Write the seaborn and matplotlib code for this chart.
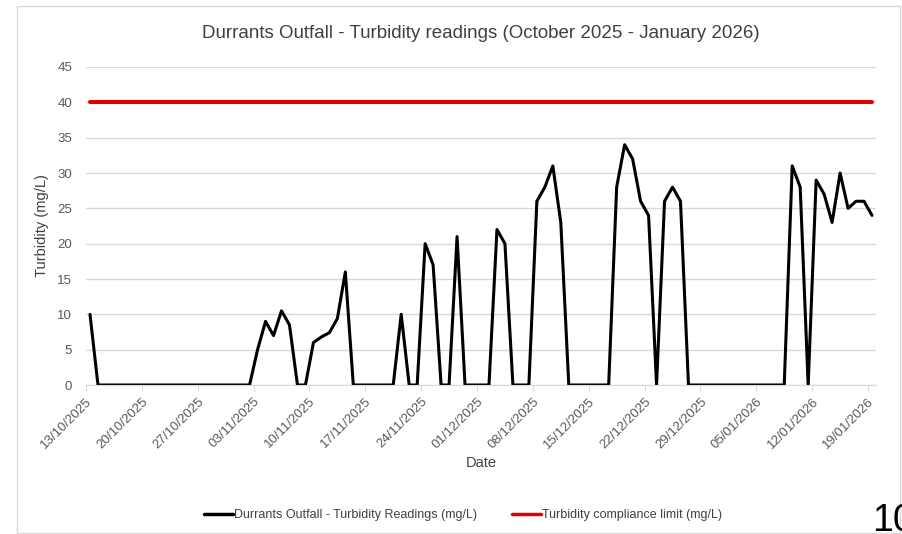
import pandas as pd
import matplotlib.pyplot as plt
import matplotlib.dates as mdates
from matplotlib.patches import Rectangle
import seaborn as sns

# daily readings from 13/10/2025, one row per week (Mon-Sun)
readings = [
    10, 0, 0, 0, 0, 0, 0,
    0, 0, 0, 0, 0, 0, 0,
    0, 0, 0, 0, 0, 0, 0,
    5, 9, 7, 10.5, 8.5, 0, 0,
    6, 6.8, 7.4, 9.4, 16, 0, 0,
    0, 0, 0, 0, 10, 0, 0,
    20, 17, 0, 0, 21, 0, 0,
    0, 0, 22, 20, 0, 0, 0,
    26, 28, 31, 23, 0, 0, 0,
    0, 0, 0, 28, 34, 32, 26,
    24, 0, 26, 28, 26, 0, 0,
    0, 0, 0, 0, 0, 0, 0,
    0, 0, 0, 0, 31, 28, 0,
    29, 27, 23, 30, 25, 26, 26,
    24,
]
start_date = '2025-10-13'
compliance_limit = 40
series_name = 'Durrants Outfall - Turbidity Readings (mg/L)'
limit_name = 'Turbidity compliance limit (mg/L)'

dates = pd.date_range(start_date, periods=len(readings), freq='D')
df = pd.DataFrame({
    'Date': dates + pd.Timedelta(hours=12),
    series_name: readings,
    limit_name: [compliance_limit] * len(readings),
})
long = df.melt(id_vars='Date', var_name='Series', value_name='Turbidity')

sns.set_style('white')
plt.rcParams['font.family'] = ['Liberation Sans', 'DejaVu Sans']

fig = plt.figure(figsize=(9.03, 5.34), dpi=100)
ax = fig.add_axes([86 / 903, 1 - 385 / 534, 790 / 903, 318 / 534])

sns.lineplot(data=long, x='Date', y='Turbidity', hue='Series',
             palette={series_name: 'black', limit_name: '#e00000'},
             ax=ax, legend=False)
ax.lines[0].set_linewidth(2.2)
ax.lines[1].set_linewidth(2.9)

ax.set_xlim(dates[0], dates[-1] + pd.Timedelta(days=1))
ax.set_ylim(0, 45)
ax.set_yticks(range(0, 46, 5))
ax.set_xticks(pd.date_range(start_date, dates[-1], freq='7D'))
ax.xaxis.set_major_formatter(mdates.DateFormatter('%d/%m/%Y'))
plt.setp(ax.get_xticklabels(), rotation=45, ha='right', rotation_mode='anchor')

ax.grid(axis='y', color='#d9d9d9', linewidth=1)
ax.set_axisbelow(True)
for s in ['top', 'right', 'left']:
    ax.spines[s].set_visible(False)
ax.spines['bottom'].set_color('#d9d9d9')
ax.tick_params(axis='x', colors='#595959', labelsize=9.5, length=4,
               direction='out', bottom=True, color='#d9d9d9')
ax.tick_params(axis='y', colors='#595959', labelsize=9.5, length=0, pad=10)

ax.set_xlabel('Date', fontsize=10.5, color='#404040', labelpad=4)
ax.set_ylabel('Turbidity (mg/L)', fontsize=10.5, color='#404040', labelpad=6)
ax.set_title('Durrants Outfall - Turbidity readings (October 2025 - January 2026)',
             fontsize=13.5, color='#404040', pad=21)

handles = [plt.Line2D([], [], color='black', lw=2.5),
           plt.Line2D([], [], color='#e00000', lw=2.5)]
fig.legend(handles, [series_name, limit_name], loc='center',
           bbox_to_anchor=(463 / 903, 1 - 515 / 534), ncol=2, frameon=False,
           fontsize=9, handlelength=2.3, handletextpad=0.1, columnspacing=2.8,
           labelcolor='#404040')

fig.patches.append(Rectangle((17 / 903, 1 / 534), 883 / 903, 527 / 534,
                             transform=fig.transFigure, fill=False,
                             edgecolor='#d9d9d9', linewidth=1))
fig.text(872 / 903, 3 / 534, '10', fontsize=27, color='black',
         ha='left', va='baseline')

fig.savefig('out.png', dpi=100)
